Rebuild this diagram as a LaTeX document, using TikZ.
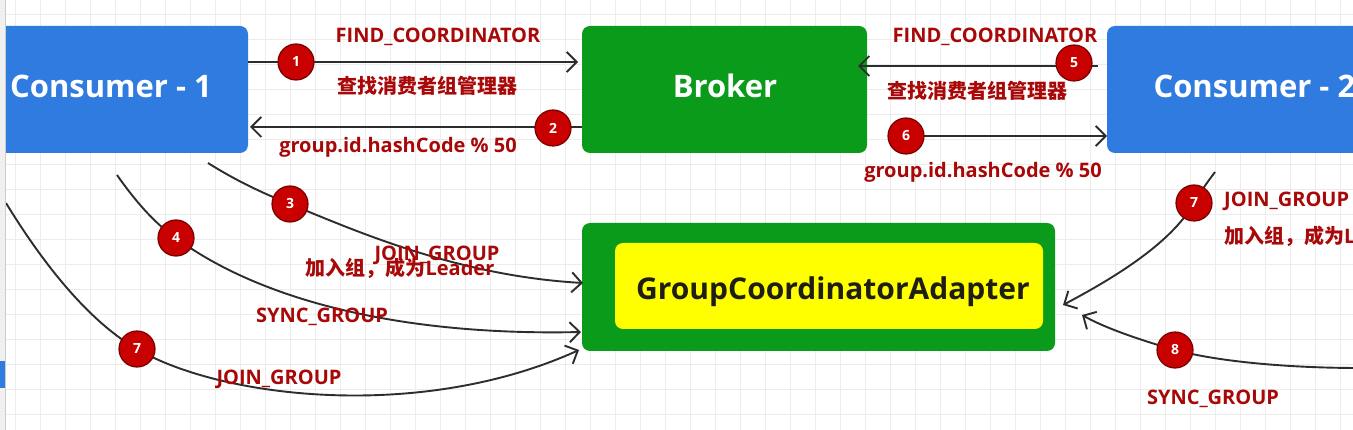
\documentclass[tikz,border=0pt]{standalone}
\usepackage{fontspec}
\setmainfont{Open Sans}
\newfontfamily\cjk{Noto Sans CJK SC}
\usetikzlibrary{arrows.meta}
\definecolor{cblue}{RGB}{47,123,224}
\definecolor{cgreen}{RGB}{10,155,26}
\definecolor{cyel}{RGB}{255,255,0}
\definecolor{lred}{RGB}{168,8,8}
\definecolor{bred}{RGB}{200,0,0}
\definecolor{bdark}{RGB}{120,0,0}
\definecolor{gridc}{RGB}{236,236,236}
\definecolor{linec}{RGB}{45,45,45}
\newcommand\lblfont{\fontsize{20}{22}\selectfont\bfseries}
\begin{document}
\begin{tikzpicture}[x=1pt,y=-1pt,
  boxtext/.style={text=white, font=\fontsize{31}{34}\selectfont\bfseries},
  badge/.style={circle, minimum size=36pt, inner sep=0pt, fill=bred, draw=bdark, line width=1.2pt, text=white, font=\fontsize{14}{16}\selectfont\bfseries},
  lbl/.style={text=lred, font=\lblfont, inner sep=0pt},
  conn/.style={draw=linec, line width=1.9pt, -{Straight Barb[length=10pt,width=20pt,line width=1.9pt]}}]
\clip (0,0) rectangle (1353,430);
\fill[white] (0,0) rectangle (1353,430);
% grid
\foreach \gx in {15,40,...,1365} \draw[gridc, line width=1pt] (\gx,0) -- (\gx,430);
\foreach \gy in {15,40,...,440} \draw[gridc, line width=1pt] (0,\gy) -- (1353,\gy);

% boxes
\fill[cblue, rounded corners=8pt] (-20,26) rectangle (248,153);
\node[boxtext] (c1) at (111,86) {Consumer - 1};
\fill[cgreen, rounded corners=8pt] (582,26) rectangle (867,153);
\node[boxtext] (broker) at (725,86) {Broker};
\fill[cblue, rounded corners=8pt] (1107,26) rectangle (1420,153);
\node[boxtext, anchor=west] (c2) at (1150,86) {Consumer - 2};
\fill[cgreen, rounded corners=8pt] (582,223) rectangle (1055,351);
\fill[cyel, rounded corners=8pt] (615,243) rectangle (1043,329);
\node[text={rgb,255:red,30;green,30;blue,20}, font=\fontsize{30}{33}\selectfont\bfseries] (gca) at (833,292) {GroupCoordinatorAdapter};

% badge coordinates
\coordinate (p1) at (296,62);
\coordinate (p2) at (553,128);
\coordinate (p3) at (290,204);
\coordinate (p4) at (176,238);
\coordinate (p5) at (1074,63);
\coordinate (p6) at (906,136);
\coordinate (p7l) at (137,349);
\coordinate (p7r) at (1194,203);
\coordinate (p8) at (1175,350);

% straight connectors
\draw[conn] (248,62) -- (578,62);
\draw[conn] (582,127) -- (250,127);
\draw[conn] (1098,66) -- (858,66);
\draw[conn] (p6) -- (1107,136);

% curved connectors
\coordinate (s3) at (208,163);
\coordinate (e3) at (583,283);
\draw[conn] (s3) .. controls (235,180) and (262,193) .. (p3) .. controls (360,233) and (460,276) .. (e3);
\coordinate (s4) at (117,175);
\coordinate (e4) at (581,332);
\draw[conn] (s4) .. controls (138,205) and (158,226) .. (p4) .. controls (260,300) and (400,336) .. (e4);
\coordinate (s7) at (6,203);
\coordinate (e7) at (579,350);
\draw[conn] (s7) .. controls (50,275) and (95,325) .. (p7l) .. controls (220,398) and (420,422) .. (e7);
\coordinate (s7r) at (1215,172);
\coordinate (e7r) at (1063,305);
\draw[conn] (s7r) .. controls (1206,184) and (1199,194) .. (p7r) .. controls (1170,245) and (1110,280) .. (e7r);
\coordinate (s8) at (1360,368);
\coordinate (e8) at (1082,315);
\draw[conn] (s8) .. controls (1290,368) and (1220,362) .. (p8) .. controls (1140,340) and (1105,328) .. (e8);

% badges
\node[badge] (b1) at (p1) {1};
\node[badge] (b2) at (p2) {2};
\node[badge] (b3) at (p3) {3};
\node[badge] (b4) at (p4) {4};
\node[badge] (b5) at (p5) {5};
\node[badge] (b6) at (p6) {6};
\node[badge] (b7l) at (p7l) {7};
\node[badge] (b7r) at (p7r) {7};
\node[badge] (b8) at (p8) {8};

% labels
\node[lbl] (l1) at (438,37) {FIND\_COORDINATOR};
\node[lbl] (l1c) at (427,86) {\cjk 查找消费者组管理器};
\node[lbl] (l2) at (398,147) {group.id.hashCode \% 50};
\node[lbl] (l5) at (995,37) {FIND\_COORDINATOR};
\node[lbl] (l5c) at (977,91) {\cjk 查找消费者组管理器};
\node[lbl] (l6) at (983,172) {group.id.hashCode \% 50};
\node[lbl] (l3a) at (437,255) {JOIN\_GROUP};
\node[lbl] (l3b) at (400,268) {{\cjk 加入组，成为}Leader};
\node[lbl] (l4) at (322,317) {SYNC\_GROUP};
\node[lbl] (l7l) at (279,379) {JOIN\_GROUP};
\node[lbl, anchor=west] (l7a) at (1224,201) {JOIN\_GROUP};
\node[lbl, anchor=west] (l7b) at (1224,236) {{\cjk 加入组，成为}Leader};
\node[lbl] (l8) at (1213,399) {SYNC\_GROUP};

% window edge
\fill[gray!12] (0,0) rectangle (5,430);
\draw[gray!40, line width=1pt] (5,0) -- (5,430);
\fill[cblue] (0,361) rectangle (5,388);
\end{tikzpicture}
\end{document}
